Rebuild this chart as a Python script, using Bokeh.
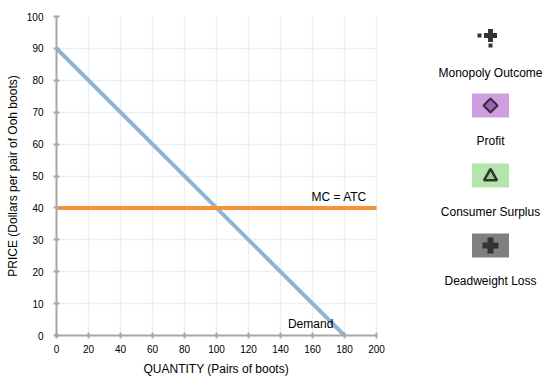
import math
from bokeh.plotting import figure
from bokeh.models import Range1d, Label, FixedTicker, BoxAnnotation, Title
from bokeh.embed import file_html
from bokeh.resources import INLINE

# Data
demand_q = [0, 180]
demand_p = [90, 0]
mc_q = [0, 200]
mc_p = [40, 40]
x_ticks = [0, 20, 40, 60, 80, 100, 120, 140, 160, 180, 200]
y_ticks = [0, 10, 20, 30, 40, 50, 60, 70, 80, 90, 100]
legend_labels = ["Monopoly Outcome", "Profit", "Consumer Surplus", "Deadweight Loss"]

FONT = "Liberation Sans"
X_MAX = 200
FRAME_W = 490
FRAME_H = 319

p = figure(width=546, height=391, output_backend="svg", toolbar_location=None,
           x_range=Range1d(0, X_MAX * FRAME_W / 320), y_range=Range1d(0, 100),
           min_border_left=56, min_border_top=16, min_border_bottom=56, min_border_right=0)
p.outline_line_color = None
p.background_fill_color = "white"

# legend coordinate system (pixels inside the frame)
p.extra_x_ranges = {"lg": Range1d(0, FRAME_W)}
p.extra_y_ranges = {"lg": Range1d(FRAME_H, 0)}

for ax in (p.xaxis[0], p.yaxis[0]):
    ax.axis_line_color = "#a6a6a6"
    ax.axis_line_width = 2
    ax.major_tick_line_color = "#a6a6a6"
    ax.major_tick_line_width = 2
    ax.major_tick_in = 3
    ax.major_tick_out = 3
    ax.minor_tick_line_color = None
    ax.major_label_text_font = FONT
    ax.major_label_text_font_size = "10px"
    ax.major_label_text_color = "black"
    ax.axis_label_text_font = FONT
    ax.axis_label_text_font_size = "12px"
    ax.axis_label_text_font_style = "normal"
    ax.axis_label_text_color = "black"

p.xaxis.ticker = FixedTicker(ticks=x_ticks)
p.yaxis.ticker = FixedTicker(ticks=y_ticks)
p.xaxis.bounds = (0, X_MAX)
p.yaxis.axis_label = "PRICE (Dollars per pair of Ooh boots)"
p.xaxis.major_label_standoff = 6
p.yaxis.major_label_standoff = 10
p.yaxis.axis_label_standoff = 4

# x-axis title centred under the 0..200 span
p.add_layout(Title(text="QUANTITY (Pairs of boots)", align="left", offset=87,
                   text_font=FONT, text_font_size="12px", text_font_style="normal",
                   text_color="black", standoff=8), "below")

p.xgrid.grid_line_color = "#efefef"
p.ygrid.grid_line_color = "#efefef"
p.xgrid.grid_line_width = 1.5
p.ygrid.grid_line_width = 1.5

# mask grid beyond the plot area
p.add_layout(BoxAnnotation(left=X_MAX + 0.6, level="underlay", fill_color="white",
                           fill_alpha=1.0, line_color=None))

p.line(demand_q, demand_p, line_color="#8cb4d7", line_width=4)
p.line(mc_q, mc_p, line_color="#f7943a", line_width=4)

p.add_layout(Label(x=194, y=43.3, text="MC = ATC", text_align="right", text_baseline="middle",
                   text_font=FONT, text_font_size="12px", text_color="black"))
p.add_layout(Label(x=173, y=1.3, text="Demand", text_align="right", text_baseline="bottom",
                   text_font=FONT, text_font_size="12px", text_color="black"))

# Legend palette
cx = 434
kw = dict(x_range_name="lg", y_range_name="lg")
p.scatter([cx], [19], marker="plus", size=13, fill_color="#333333", line_color=None, **kw)
p.rect([cx - 11], [19], width=4, height=4, fill_color="#333333", line_color=None, **kw)
p.rect([cx], [29], width=4, height=4, fill_color="#333333", line_color=None, **kw)

box_y = [89, 159, 229]
box_colors = ["#cf9fdf", "#b4e5ab", "#808080"]
p.rect([cx] * 3, box_y, width=37, height=24, fill_color=box_colors, line_color=None, **kw)
p.scatter([cx], [89], marker="square", angle=math.pi / 4, size=10, fill_color="#a35bbd",
          line_color="#333333", line_width=2, **kw)
p.scatter([cx], [160], marker="triangle", size=13, fill_color="#8fd383", line_color="#333333",
          line_width=2.5, **kw)
p.scatter([cx], [229], marker="plus", size=16, fill_color="#333333", line_color=None, **kw)

label_y = [56, 124, 195, 264]
p.text([cx] * 4, label_y, text=legend_labels, text_align="center", text_baseline="middle",
       text_font={"value": FONT}, text_font_size={"value": "12px"}, text_color="black", **kw)

open("out.html", "w").write(file_html(p, INLINE))
